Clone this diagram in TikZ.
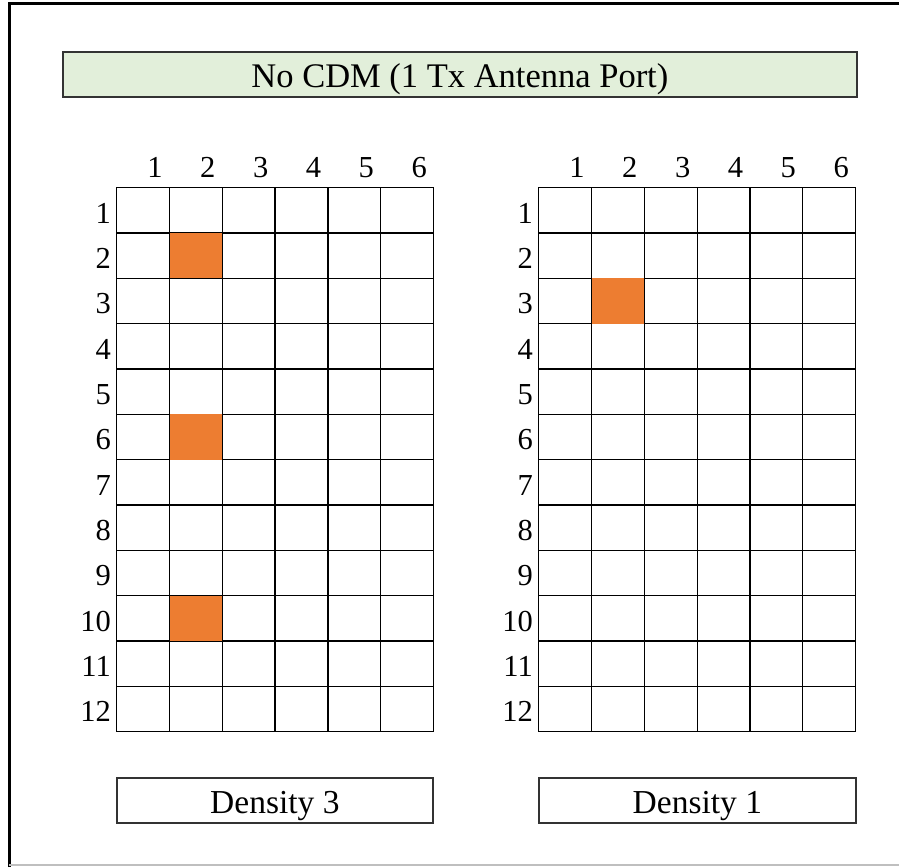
\documentclass[tikz,border=0pt]{standalone}
\usepackage{fontspec}
\setmainfont{Liberation Serif}
\definecolor{hdrgreen}{HTML}{E2EFDA}
\definecolor{rsorange}{HTML}{ED7D31}
\definecolor{boxline}{HTML}{333333}
\begin{document}
\begin{tikzpicture}[x=1pt,y=-1pt,
  cellbox/.style={draw=black,line width=1.3pt},
  lbl/.style={font=\fontsize{30.5}{33}\selectfont,inner sep=0pt},
  capbox/.style={draw=boxline,line width=1.8pt,inner sep=0pt,text height=36pt,text depth=9pt}]
\useasboundingbox (0,0) rectangle (899,867);
\fill[white] (0,0) rectangle (899,867);
% sheet frame
\draw[line width=3pt] (9,867) -- (9,4) -- (899,4);
\draw[gray!50,line width=1.2pt] (9,865) -- (899,865);
% heading
\node[capbox,fill=hdrgreen,minimum width=794pt,anchor=north west,font=\fontsize{34.5}{38}\selectfont] (title) at (62,51) {No CDM (1 Tx Antenna Port)};
% two 12x6 grids, left at x=116, right at x=538
\def\cw{52.83}
\def\rh{45.33}
\foreach \g/\x in {L/116,R/538}{
  \foreach \c in {1,...,6}{
    \node[lbl,anchor=base east] (\g col\c) at ({\x+\c*\cw-6},177) {\c};
  }
  \foreach \r in {1,...,12}{
    \node[lbl,anchor=base east] (\g row\r) at ({\x-5},{187+\r*\rh-9}) {\r};
    \foreach \c in {1,...,6}{
      \node[cellbox,minimum width=\cw pt,minimum height=\rh pt,anchor=north west,inner sep=0pt] (\g-\r-\c) at ({\x+(\c-1)*\cw},{187+(\r-1)*\rh}) {};
    }
  }
}
% reference signal REs
\foreach \r in {2,6,10}{\fill[rsorange] ([shift={(0.7pt,-0.7pt)}]L-\r-2.north west) rectangle ([shift={(-0.7pt,0.7pt)}]L-\r-2.south east);}
\fill[rsorange] ([shift={(0.7pt,-0.7pt)}]R-3-2.north west) rectangle ([shift={(-0.7pt,0.7pt)}]R-3-2.south east);
% density captions
\node[capbox,minimum width=316pt,anchor=north west,font=\fontsize{33.5}{37}\selectfont] (densL) at (116,777) {Density 3};
\node[capbox,minimum width=317pt,anchor=north west,font=\fontsize{33.5}{37}\selectfont] (densR) at (538,777) {Density 1};
\end{tikzpicture}
\end{document}
